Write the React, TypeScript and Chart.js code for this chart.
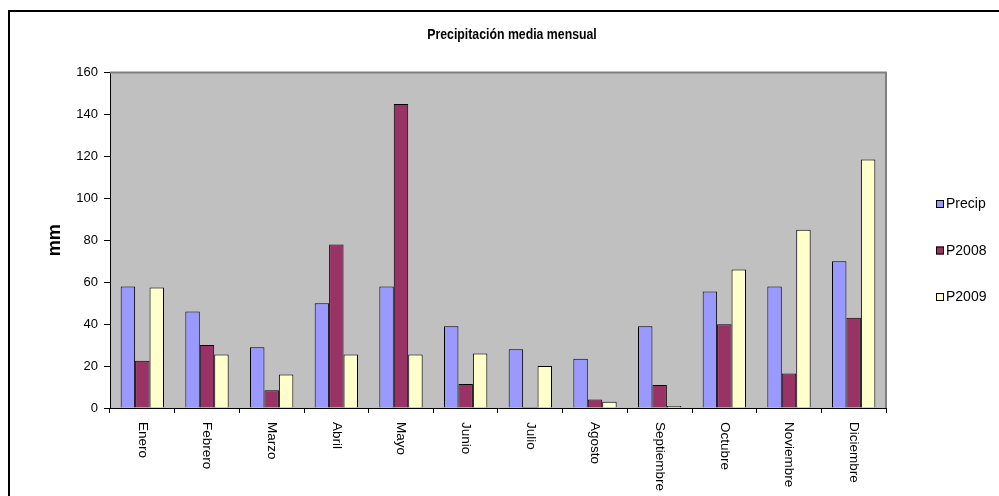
import React, { useEffect, useRef } from "react";
import { Chart, registerables } from "chart.js";

Chart.register(...registerables);

const months = [
  "Enero", "Febrero", "Marzo", "Abril", "Mayo", "Junio",
  "Julio", "Agosto", "Septiembre", "Octubre", "Noviembre", "Diciembre",
];
const precip = [58, 46, 29, 50, 58, 39, 28, 23.5, 39, 55.5, 58, 70];
const p2008 = [22.5, 30, 8.5, 78, 145, 11.5, 0.5, 4, 11, 40, 16.5, 43];
const p2009 = [57.5, 25.5, 16, 25.5, 25.5, 26, 20, 3, 1, 66, 85, 118.5];
const seriesNames = ["Precip", "P2008", "P2009"];
const seriesColors = ["#9999FF", "#993366", "#FFFFCC"];
const chartTitle = "Precipitación media mensual";
const yTitle = "mm";

const SANS = "'Liberation Sans', Arial, sans-serif";

// Frame, plot background, title, rotated month labels and the legend.
const decorations = {
  id: "decorations",
  beforeDraw(chart: any) {
    const { ctx, chartArea } = chart;
    ctx.save();
    ctx.fillStyle = "#FFFFFF";
    ctx.fillRect(0, 0, chart.width, chart.height);
    ctx.fillStyle = "#C0C0C0";
    ctx.fillRect(chartArea.left, chartArea.top, chartArea.right - chartArea.left, chartArea.bottom - chartArea.top);
    // outer frame
    ctx.strokeStyle = "#000";
    ctx.lineWidth = 2;
    ctx.strokeRect(9, 11, chart.width + 20, chart.height + 20);
    ctx.restore();
  },
  afterDatasetsDraw(chart: any) {
    const { ctx, chartArea } = chart;
    ctx.save();
    // grey plot-area edge on top and right
    ctx.strokeStyle = "#808080";
    ctx.lineWidth = 2;
    ctx.beginPath();
    ctx.moveTo(chartArea.left, chartArea.top);
    ctx.lineTo(chartArea.right, chartArea.top);
    ctx.lineTo(chartArea.right, chartArea.bottom);
    ctx.stroke();
    ctx.restore();
  },
  afterDraw(chart: any) {
    const { ctx } = chart;
    const xScale = chart.scales.x;
    ctx.save();
    // title, set in a condensed face
    ctx.fillStyle = "#000";
    ctx.font = `bold 15px ${SANS}`;
    ctx.textAlign = "center";
    ctx.textBaseline = "middle";
    ctx.save();
    ctx.translate(512, 35);
    ctx.scale(0.82, 1);
    ctx.fillText(chartTitle, 0, 0);
    ctx.restore();

    // month labels, reading top to bottom
    ctx.font = `13.5px ${SANS}`;
    ctx.textAlign = "left";
    ctx.textBaseline = "middle";
    chart.data.labels.forEach((label: string, i: number) => {
      const x = xScale.getPixelForValue(i);
      ctx.save();
      ctx.translate(x, xScale.top + 14);
      ctx.rotate(Math.PI / 2);
      ctx.fillText(label, 0, 0);
      ctx.restore();
    });

    // legend
    ctx.font = `14px ${SANS}`;
    chart.data.datasets.forEach((ds: any, i: number) => {
      const cy = 204 + i * 46.5;
      ctx.fillStyle = ds.backgroundColor;
      ctx.fillRect(936, cy - 4, 8, 8);
      ctx.strokeStyle = "#000";
      ctx.lineWidth = 1;
      ctx.strokeRect(936.5, cy - 3.5, 7, 7);
      ctx.fillStyle = "#000";
      ctx.textAlign = "left";
      ctx.fillText(ds.label, 946, cy + 0.5);
    });
    ctx.restore();
  },
};

export default function App() {
  const canvasRef = useRef<HTMLCanvasElement | null>(null);

  useEffect(() => {
    document.body.style.margin = "0";
    const canvas = canvasRef.current;
    if (!canvas) return;
    const values = [precip, p2008, p2009];
    const chart = new Chart(canvas, {
      type: "bar",
      data: {
        labels: months,
        datasets: seriesNames.map((name, i) => ({
          label: name,
          data: values[i],
          backgroundColor: seriesColors[i],
          borderColor: "#000",
          borderWidth: 1,
          categoryPercentage: 0.67,
          barPercentage: 1,
        })),
      },
      options: {
        responsive: false,
        animation: false,
        devicePixelRatio: 1,
        layout: { padding: { left: 10, top: 72.5, right: 113, bottom: 0 } },
        plugins: {
          legend: { display: false },
          title: { display: false },
          tooltip: { enabled: false },
        },
        scales: {
          x: {
            type: "category",
            offset: true,
            grid: {
              display: true,
              offset: true,
              drawOnChartArea: false,
              drawTicks: true,
              tickLength: 5,
              color: "#000",
            },
            border: { display: true, color: "#000", width: 1 },
            ticks: { display: false },
            afterFit: (scale: any) => {
              scale.height = 88;
            },
          },
          y: {
            min: 0,
            max: 160,
            ticks: {
              stepSize: 20,
              color: "#000",
              padding: 6,
              font: { family: SANS, size: 13 },
            },
            grid: {
              display: true,
              drawOnChartArea: false,
              drawTicks: true,
              tickLength: 6,
              color: "#000",
            },
            border: { display: true, color: "#000", width: 1 },
            title: {
              display: true,
              text: yTitle,
              color: "#000",
              font: { family: SANS, size: 18, weight: "bold" },
              padding: { top: 34, bottom: 0 },
            },
            afterFit: (scale: any) => {
              scale.width = 100;
            },
          },
        },
      },
      plugins: [decorations],
    });
    return () => chart.destroy();
  }, []);

  return (
    <div style={{ width: 999, height: 496 }}>
      <canvas ref={canvasRef} width={999} height={496} style={{ display: "block", width: 999, height: 496 }} />
    </div>
  );
}
